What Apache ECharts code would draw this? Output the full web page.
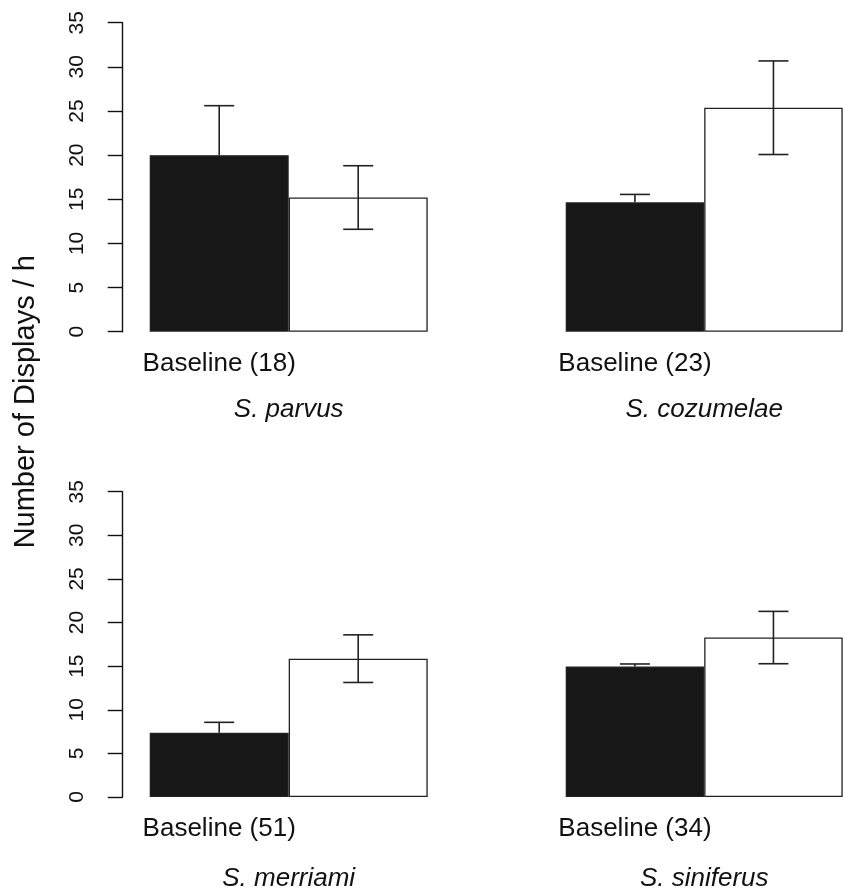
<!DOCTYPE html>
<html>
<head>
<meta charset="utf-8">
<script src="https://cdn.jsdelivr.net/npm/echarts@6/dist/echarts.min.js"></script>
<style>
html,body{margin:0;padding:0;background:#fff;}
#chart{width:843px;height:893px;}
</style>
</head>
<body>
<div id="chart"></div>
<script>
// ---- data ----
const species = ['S. parvus', 'S. cozumelae', 'S. merriami', 'S. siniferus'];
const baselineLabels = ['Baseline (18)', 'Baseline (23)', 'Baseline (51)', 'Baseline (34)'];
const baselineMean = [20.0, 14.65, 7.36, 14.95];
const baselineSE = [5.6, 0.9, 1.2, 0.3];
const treatmentMean = [15.2, 25.37, 15.86, 18.28];
const treatmentSE = [3.6, 5.3, 2.73, 3.0];
const yTicks = [0, 5, 10, 15, 20, 25, 30, 35];
const yTitle = 'Number of Displays / h';

// ---- layout ----
const FONT = '"Liberation Sans", Arial, Helvetica, sans-serif';
const grids = [
  {left: 149.7, width: 278, top: 22.7, height: 309, showY: true, nameGap: 65},
  {left: 565.7, width: 277, top: 22.7, height: 309, showY: false, nameGap: 65},
  {left: 149.7, width: 278, top: 491.7, height: 309, showY: true, nameGap: 69},
  {left: 565.7, width: 277, top: 491.7, height: 309, showY: false, nameGap: 69}
];

const option = {
  animation: false,
  backgroundColor: '#fff',
  grid: grids.map(g => ({left: g.left, width: g.width, top: g.top, height: g.height, containLabel: false})),
  xAxis: grids.map((g, i) => ({
    type: 'category',
    gridIndex: i,
    data: [baselineLabels[i], ' '],
    boundaryGap: true,
    axisLine: {show: false},
    axisTick: {show: false},
    splitLine: {show: false},
    axisLabel: {
      show: true, interval: 0, margin: 19,
      color: '#111', fontSize: 26, fontFamily: FONT
    },
    name: species[i],
    nameLocation: 'middle',
    nameGap: g.nameGap,
    nameTextStyle: {color: '#111', fontSize: 26, fontStyle: 'italic', fontFamily: FONT}
  })),
  yAxis: grids.map((g, i) => ({
    type: 'value',
    gridIndex: i,
    min: yTicks[0],
    max: yTicks[yTicks.length - 1],
    interval: yTicks[1] - yTicks[0],
    show: g.showY,
    offset: 27,
    axisLine: {show: true, lineStyle: {color: '#111', width: 1.4}},
    axisTick: {show: true, inside: false, length: 15, lineStyle: {color: '#111', width: 1.4}},
    splitLine: {show: false},
    axisLabel: {
      show: true, rotate: 90, margin: 35,
      color: '#111', fontSize: 21, fontFamily: FONT
    }
  })),
  graphic: [{
    type: 'text',
    x: 26, y: 401.7,
    rotation: Math.PI / 2,
    style: {
      text: yTitle,
      fill: '#111',
      font: '29px ' + FONT,
      textAlign: 'center',
      textVerticalAlign: 'middle'
    }
  }],
  series: []
};

grids.forEach((g, i) => {
  option.series.push({
    type: 'bar',
    xAxisIndex: i,
    yAxisIndex: i,
    barWidth: '100%',
    barCategoryGap: '0%',
    z: 2,
    data: [
      {value: baselineMean[i], itemStyle: {color: '#171717', borderColor: '#222', borderWidth: 1.3}},
      {value: treatmentMean[i], itemStyle: {color: '#ffffff', borderColor: '#222', borderWidth: 1.3}}
    ]
  });
  option.series.push({
    type: 'custom',
    xAxisIndex: i,
    yAxisIndex: i,
    z: 5,
    data: [
      // [category index, mean, lower, upper, draw lower half?]
      [0, baselineMean[i], baselineMean[i] - baselineSE[i], baselineMean[i] + baselineSE[i], 0],
      [1, treatmentMean[i], treatmentMean[i] - treatmentSE[i], treatmentMean[i] + treatmentSE[i], 1]
    ],
    renderItem: function (params, api) {
      const x = api.value(0);
      const mid = api.coord([x, api.value(1)]);
      const lo = api.coord([x, api.value(2)]);
      const hi = api.coord([x, api.value(3)]);
      const showLow = api.value(4) === 1;
      const hw = 15;
      const style = {stroke: '#222', lineWidth: 1.6, fill: null};
      const start = showLow ? lo : mid;
      const children = [
        {type: 'line', shape: {x1: start[0], y1: start[1], x2: hi[0], y2: hi[1]}, style: style},
        {type: 'line', shape: {x1: hi[0] - hw, y1: hi[1], x2: hi[0] + hw, y2: hi[1]}, style: style}
      ];
      if (showLow) {
        children.push({type: 'line', shape: {x1: lo[0] - hw, y1: lo[1], x2: lo[0] + hw, y2: lo[1]}, style: style});
      }
      return {type: 'group', children: children};
    }
  });
});

const chart = echarts.init(document.getElementById('chart'), null, {renderer: 'canvas'});
chart.setOption(option);
</script>
</body>
</html>
